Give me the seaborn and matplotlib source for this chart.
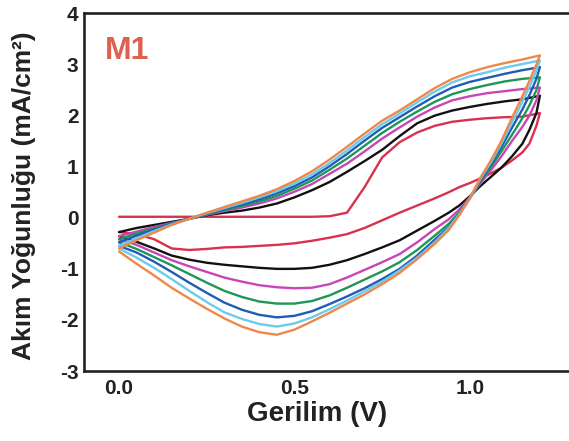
import matplotlib
matplotlib.use("Agg")
import matplotlib.pyplot as plt
import numpy as np
import pandas as pd
import seaborn as sns

# ---- data (potential in V, current density in mA/cm2) ----
cycles = ["1", "2", "3", "4", "5", "6", "7"]
colors = ["#d8314e", "#111111", "#c646b8", "#1d9656", "#1f5cb5", "#6ccbec", "#f0874a"]

E_fwd = [0.0, 0.05, 0.1, 0.15, 0.2, 0.25, 0.3, 0.35, 0.4, 0.45, 0.5, 0.55, 0.6,
         0.65, 0.7, 0.75, 0.8, 0.85, 0.9, 0.95, 1.0, 1.05, 1.1, 1.15, 1.2]
E_rev = [1.19, 1.17, 1.15, 1.12, 1.09, 1.06, 1.03, 1.0, 0.97, 0.94, 0.9, 0.85, 0.8,
         0.75, 0.7, 0.65, 0.6, 0.55, 0.5, 0.45, 0.4, 0.35, 0.3, 0.25, 0.2, 0.15,
         0.1, 0.05, 0.0]

red_fwd = [0.02, 0.02, 0.02, 0.02, 0.02, 0.02, 0.02, 0.02, 0.02, 0.02, 0.02, 0.02, 0.03,
           0.1, 0.6, 1.18, 1.48, 1.67, 1.8, 1.88, 1.92, 1.95, 1.97, 1.98, 2.05]
red_rev = [1.8, 1.45, 1.28, 1.12, 0.98, 0.87, 0.77, 0.68, 0.6, 0.5, 0.38, 0.24, 0.1,
           -0.05, -0.2, -0.32, -0.39, -0.45, -0.5, -0.53, -0.55, -0.57, -0.58, -0.61,
           -0.63, -0.6, -0.42, -0.32, -0.28]

black_fwd = [-0.28, -0.2, -0.14, -0.08, -0.02, 0.05, 0.1, 0.14, 0.2, 0.28, 0.4, 0.54, 0.7,
             0.9, 1.11, 1.33, 1.6, 1.85, 2.0, 2.1, 2.17, 2.23, 2.28, 2.32, 2.39]
black_rev = [2.05, 1.72, 1.45, 1.2, 0.98, 0.8, 0.62, 0.42, 0.24, 0.1, -0.06, -0.25, -0.44,
             -0.58, -0.71, -0.83, -0.92, -0.98, -1.0, -1.0, -0.98, -0.95, -0.92, -0.88,
             -0.82, -0.74, -0.6, -0.47, -0.36]

magenta_fwd = [-0.36, -0.27, -0.18, -0.1, -0.02, 0.06, 0.13, 0.2, 0.28, 0.38, 0.51, 0.66, 0.86,
               1.06, 1.3, 1.55, 1.77, 1.98, 2.16, 2.3, 2.38, 2.44, 2.48, 2.52, 2.55]
magenta_rev = [2.3, 2.0, 1.78, 1.5, 1.2, 0.93, 0.67, 0.4, 0.16, -0.03, -0.22, -0.48, -0.71,
               -0.87, -1.02, -1.17, -1.3, -1.37, -1.38, -1.36, -1.32, -1.25, -1.17, -1.06,
               -0.95, -0.83, -0.68, -0.53, -0.42]

green_fwd = [-0.42, -0.31, -0.21, -0.11, -0.02, 0.07, 0.15, 0.23, 0.32, 0.43, 0.57, 0.73, 0.94,
             1.16, 1.41, 1.66, 1.88, 2.08, 2.27, 2.42, 2.52, 2.6, 2.67, 2.72, 2.75]
green_rev = [2.5, 2.2, 1.95, 1.62, 1.3, 0.99, 0.71, 0.38, 0.1, -0.12, -0.35, -0.63, -0.87,
             -1.05, -1.21, -1.37, -1.52, -1.63, -1.68, -1.68, -1.64, -1.55, -1.43, -1.27,
             -1.1, -0.93, -0.77, -0.61, -0.48]

blue_fwd = [-0.48, -0.35, -0.23, -0.12, -0.02, 0.08, 0.17, 0.26, 0.36, 0.48, 0.62, 0.79, 1.01,
            1.25, 1.51, 1.76, 1.97, 2.18, 2.38, 2.55, 2.66, 2.74, 2.82, 2.89, 2.95]
blue_rev = [2.72, 2.4, 2.12, 1.76, 1.38, 1.04, 0.74, 0.38, 0.08, -0.18, -0.43, -0.74, -1.0,
            -1.2, -1.38, -1.54, -1.69, -1.83, -1.92, -1.95, -1.9, -1.8, -1.66, -1.47,
            -1.27, -1.06, -0.86, -0.68, -0.55]

cyan_fwd = [-0.55, -0.4, -0.26, -0.13, -0.02, 0.09, 0.19, 0.29, 0.4, 0.52, 0.67, 0.85, 1.07,
            1.32, 1.58, 1.83, 2.04, 2.26, 2.47, 2.65, 2.77, 2.85, 2.94, 3.01, 3.08]
cyan_rev = [2.88, 2.56, 2.27, 1.86, 1.45, 1.08, 0.76, 0.38, 0.07, -0.2, -0.48, -0.78, -1.03,
            -1.25, -1.44, -1.62, -1.79, -1.95, -2.07, -2.13, -2.08, -1.98, -1.85, -1.65,
            -1.43, -1.2, -0.98, -0.78, -0.6]

orange_fwd = [-0.6, -0.44, -0.29, -0.14, -0.02, 0.1, 0.21, 0.32, 0.43, 0.56, 0.72, 0.91, 1.14,
              1.39, 1.65, 1.9, 2.1, 2.32, 2.54, 2.72, 2.85, 2.95, 3.03, 3.1, 3.18]
orange_rev = [3.0, 2.68, 2.38, 1.95, 1.5, 1.12, 0.78, 0.38, 0.05, -0.24, -0.51, -0.81, -1.08,
              -1.3, -1.5, -1.68, -1.86, -2.03, -2.19, -2.29, -2.24, -2.13, -1.97, -1.78,
              -1.58, -1.37, -1.13, -0.9, -0.66]

x_ticks = [0.0, 0.5, 1.0]
x_tick_labels = ["0.0", "0.5", "1.0"]
y_ticks = [-3, -2, -1, 0, 1, 2, 3, 4]
y_tick_labels = ["-3", "-2", "-1", "0", "1", "2", "3", "4"]

branches = [
    (red_fwd, red_rev), (black_fwd, black_rev), (magenta_fwd, magenta_rev),
    (green_fwd, green_rev), (blue_fwd, blue_rev), (cyan_fwd, cyan_rev),
    (orange_fwd, orange_rev),
]

rows = []
for name, (fwd, rev) in zip(cycles, branches):
    E_all = E_fwd + E_rev
    I_all = fwd + rev
    for k, (e, i) in enumerate(zip(E_all, I_all)):
        rows.append({"cycle": name, "step": k, "E": e, "I": i})
df = pd.DataFrame(rows)

# ---- style ----
sns.set_style("white")
plt.rcParams["font.family"] = ["Liberation Sans", "DejaVu Sans"]
plt.rcParams["font.weight"] = "bold"

fig = plt.figure(figsize=(5.69, 4.41), dpi=100)
ax = fig.add_axes([0.1476, 0.1587, 0.8629, 0.8107])

sns.lineplot(data=df, x="E", y="I", hue="cycle", palette=colors, sort=False,
             estimator=None, linewidth=1.7, legend=False, ax=ax)

ax.set_xlim(-0.1, 1.3)
ax.set_ylim(-3, 4)
ax.set_xticks(x_ticks)
ax.set_xticklabels(x_tick_labels)
ax.set_yticks(y_ticks)
ax.set_yticklabels(y_tick_labels)
ax.tick_params(axis="both", length=0, labelsize=15, colors="#222222")
ax.tick_params(axis="x", pad=6)
ax.tick_params(axis="y", pad=4)
for lab in ax.get_xticklabels() + ax.get_yticklabels():
    lab.set_fontweight("bold")

for sp in ax.spines.values():
    sp.set_visible(True)
    sp.set_linewidth(1.9)
    sp.set_color("#222222")

ax.set_xlabel("Gerilim (V)", fontsize=20, fontweight="bold", color="#222222")
ax.set_ylabel("Akım Yoğunluğu (mA/cm²)", fontsize=19, fontweight="bold", color="#222222")
ax.xaxis.set_label_coords(0.475, -0.085)
ax.yaxis.set_label_coords(-0.098, 0.49)

ax.text(-0.04, 3.11, "M1", color="#e0604f", fontsize=23, fontweight="bold",
        ha="left", va="baseline")

fig.savefig("out.png", dpi=100)
